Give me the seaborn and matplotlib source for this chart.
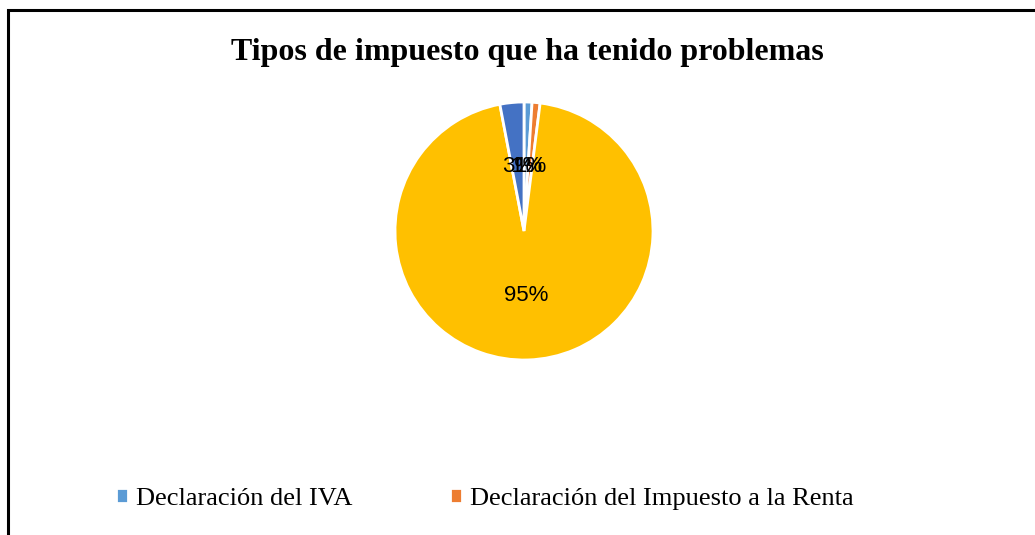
import matplotlib
matplotlib.use("Agg")
import matplotlib.pyplot as plt
from matplotlib.patches import Rectangle
import seaborn as sns

# data
categorias = ["Declaración del IVA", "Declaración del Impuesto a la Renta", "Ninguno", "Ambos"]
porcentajes = [1, 1, 95, 3]
colores = ["#5B9BD5", "#ED7D31", "#FFC000", "#4472C4"]
titulo = "Tipos de impuesto que ha tenido problemas"

sns.set_theme(style="white")
plt.rcParams["font.family"] = ["Liberation Serif", "DejaVu Serif"]

W, H = 1035, 535
fig = plt.figure(figsize=(W / 100, H / 100), dpi=100)
fig.patch.set_facecolor("white")

# pie placed in pixels: centre (524, 231), radius 129
cx, cy, r = 524, 231, 129
ax = fig.add_axes([(cx - r) / W, (H - cy - r) / H, 2 * r / W, 2 * r / H])
pal = sns.color_palette(colores)
wedges, texts, autotexts = ax.pie(
    porcentajes,
    colors=pal,
    startangle=90,
    counterclock=False,
    autopct="%.0f%%",
    pctdistance=0.5,
    wedgeprops=dict(edgecolor="white", linewidth=2),
    textprops=dict(family=["Liberation Sans", "DejaVu Sans"], fontsize=16, color="black"),
)
ax.set_xlim(-1, 1)
ax.set_ylim(-1, 1)
ax.set_aspect("equal")
ax.axis("off")

fig.text(527 / W, 1 - 60 / H, titulo, ha="center", va="baseline",
         fontsize=23, fontweight="bold", color="black")

leg = fig.legend(wedges[:2], categorias[:2], loc="center left",
                 bbox_to_anchor=(116 / W, 36 / H), ncol=2, frameon=False,
                 fontsize=19, handlelength=0.45, handleheight=0.5,
                 handletextpad=0.3, columnspacing=3.7,
                 borderpad=0, borderaxespad=0)
for t in leg.get_texts():
    t.set_color("black")

# outer chart border (only top and left visible in the reference)
fig.patches.append(Rectangle((7.5 / W, -0.2), 1.5, (1 - 9.5 / H) + 0.2,
                             transform=fig.transFigure, fill=False,
                             edgecolor="black", linewidth=2.2))

fig.savefig("out.png", dpi=100)
